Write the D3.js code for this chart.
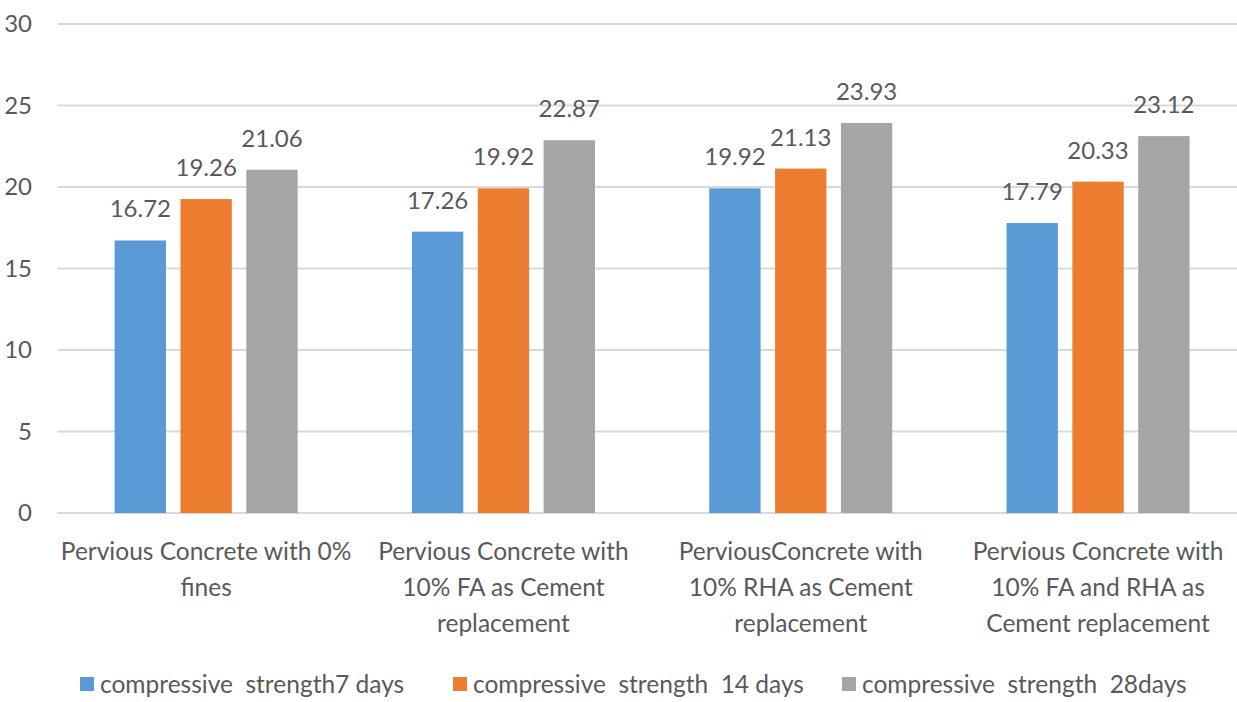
<meta charset="utf-8">
<style>
  body { margin: 0; background: #fff; }
  text { font-family: Lato, "Open Sans", sans-serif; fill: #595959; }
  .grid line { stroke: #d9d9d9; stroke-width: 2; }
</style>
<body>
<script src="https://cdn.jsdelivr.net/npm/d3@7"></script>
<script>
  const categories = [
    ["Pervious Concrete with 0%", "fines"],
    ["Pervious Concrete with", "10% FA as Cement", "replacement"],
    ["PerviousConcrete with", "10% RHA as Cement", "replacement"],
    ["Pervious Concrete with", "10% FA and RHA as", "Cement replacement"]
  ];
  const seriesNames = [
    "compressive  strength7 days",
    "compressive  strength  14 days",
    "compressive  strength  28days"
  ];
  const days7 = [16.72, 17.26, 19.92, 17.79];
  const days14 = [19.26, 19.92, 21.13, 20.33];
  const days28 = [21.06, 22.87, 23.93, 23.12];
  const yTicks = [0, 5, 10, 15, 20, 25, 30];
  const colors = ["#5b9bd5", "#ed7d31", "#a5a5a5"];

  const series = [days7, days14, days28];
  const W = 1237, H = 702;

  const svg = d3.select("body").append("svg")
    .attr("width", W).attr("height", H);

  const x = d3.scaleBand()
    .domain(d3.range(categories.length))
    .range([57.5, 1246.7])
    .paddingInner(0).paddingOuter(0);

  const y = d3.scaleLinear().domain([0, 30]).range([513, 24]);

  // 3 bars per group, ~51.5 wide, step 66
  const xs = d3.scaleBand()
    .domain(d3.range(series.length))
    .range([x.bandwidth() / 2 - 91.5, x.bandwidth() / 2 + 91.5])
    .paddingInner(0.22).paddingOuter(0);

  // gridlines
  svg.append("g").attr("class", "grid")
    .selectAll("line").data(yTicks).join("line")
    .attr("x1", 57.5).attr("x2", W)
    .attr("y1", d => y(d)).attr("y2", d => y(d));

  // y tick labels
  svg.append("g").selectAll("text").data(yTicks).join("text")
    .attr("x", 32).attr("y", d => y(d))
    .attr("dy", "0.35em")
    .attr("text-anchor", "end")
    .style("font-size", "24px")
    .text(d => d);

  // bars + value labels
  const groups = svg.append("g").selectAll("g").data(categories).join("g")
    .attr("transform", (d, i) => `translate(${x(i)},0)`);

  groups.each(function(c, i) {
    const g = d3.select(this);
    series.forEach((s, j) => {
      g.append("rect")
        .attr("x", xs(j)).attr("width", xs.bandwidth())
        .attr("y", y(s[i])).attr("height", y(0) - y(s[i]))
        .attr("fill", colors[j]);
      g.append("text")
        .attr("x", xs(j) + xs.bandwidth() / 2)
        .attr("y", y(s[i]) - 23)
        .attr("text-anchor", "middle")
        .style("font-size", "24px")
        .text(s[i].toFixed(2));
    });
    // category label
    const t = g.append("text")
      .attr("text-anchor", "middle")
      .style("font-size", "24.5px");
    c.forEach((line, k) => {
      t.append("tspan")
        .attr("x", x.bandwidth() / 2)
        .attr("y", 560 + k * 36)
        .text(line);
    });
  });

  // legend (kept just inside the bottom edge)
  const legendX = [80, 453, 842];
  const leg = svg.append("g").selectAll("g").data(seriesNames).join("g")
    .attr("transform", (d, i) => `translate(${legendX[i]},684)`);
  leg.append("rect")
    .attr("x", 0).attr("y", -7).attr("width", 14).attr("height", 14)
    .attr("fill", (d, i) => colors[i]);
  leg.append("text")
    .attr("x", 20).attr("y", 0).attr("dy", "0.35em")
    .style("font-size", "24.5px")
    .style("white-space", "pre")
    .attr("xml:space", "preserve")
    .text(d => d);
</script>
</body>
